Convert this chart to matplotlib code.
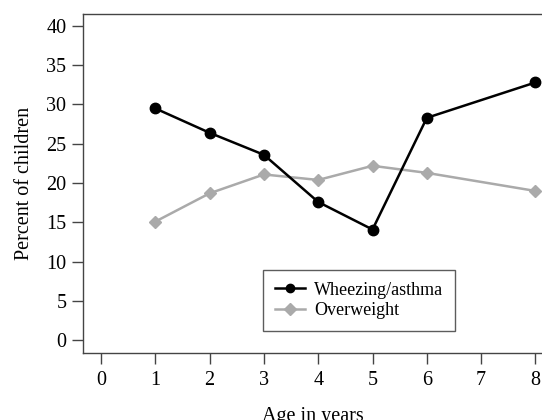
import matplotlib
matplotlib.use("Agg")
import matplotlib.pyplot as plt

# values
ages = [1, 2, 3, 4, 5, 6, 8]
wheezing = [29.5, 26.4, 23.6, 17.6, 14.1, 28.3, 32.8]
overweight = [15.1, 18.7, 21.1, 20.4, 22.2, 21.3, 19.0]
x_ticks = [0, 1, 2, 3, 4, 5, 6, 7, 8]
y_ticks = [0, 5, 10, 15, 20, 25, 30, 35, 40]

plt.rcParams['font.family'] = ['Liberation Serif', 'DejaVu Serif']

W, H = 542, 420
fig = plt.figure(figsize=(W / 100, H / 100), dpi=100)
# axes box in pixels: left 83, right 542, top 14, bottom 353
ax = fig.add_axes([83 / W, (H - 353) / H, (542 - 83) / W, (353 - 14) / H])

ax.plot(ages, overweight, color='#aaaaaa', lw=1.8, marker='D', ms=6.5,
        label='Overweight', zorder=2)
ax.plot(ages, wheezing, color='black', lw=1.8, marker='o', ms=7.5,
        label='Wheezing/asthma', zorder=3)

ax.set_xlim(-0.33, 8.12)
ax.set_ylim(-1.6, 41.5)
ax.set_xticks(x_ticks)
ax.set_yticks(y_ticks)

for side in ['left', 'top', 'bottom']:
    ax.spines[side].set_color('#444444')
    ax.spines[side].set_linewidth(1.0)
ax.spines['right'].set_visible(False)

ax.tick_params(axis='both', direction='out', length=8, width=1.0,
               color='#444444', labelsize=14.5)
ax.tick_params(axis='x', pad=5)
ax.tick_params(axis='y', pad=4)

ax.set_xlabel('Age in years', fontsize=14.5, labelpad=12)
ax.set_ylabel('Percent of children', fontsize=14.5, labelpad=9)

handles, labels = ax.get_legend_handles_labels()
leg = ax.legend(handles[::-1], labels[::-1], loc='upper left',
                bbox_to_anchor=(263 / W, (H - 270) / H),
                bbox_transform=fig.transFigure, borderaxespad=0,
                fontsize=13, frameon=True, fancybox=False, shadow=False,
                handlelength=1.7, handletextpad=0.5, labelspacing=0.2,
                borderpad=0.65)
leg.get_frame().set_edgecolor('#333333')
leg.get_frame().set_linewidth(1.0)
for h in leg.legend_handles:
    h.set_markersize(6)

fig.savefig('out.png', dpi=100)
